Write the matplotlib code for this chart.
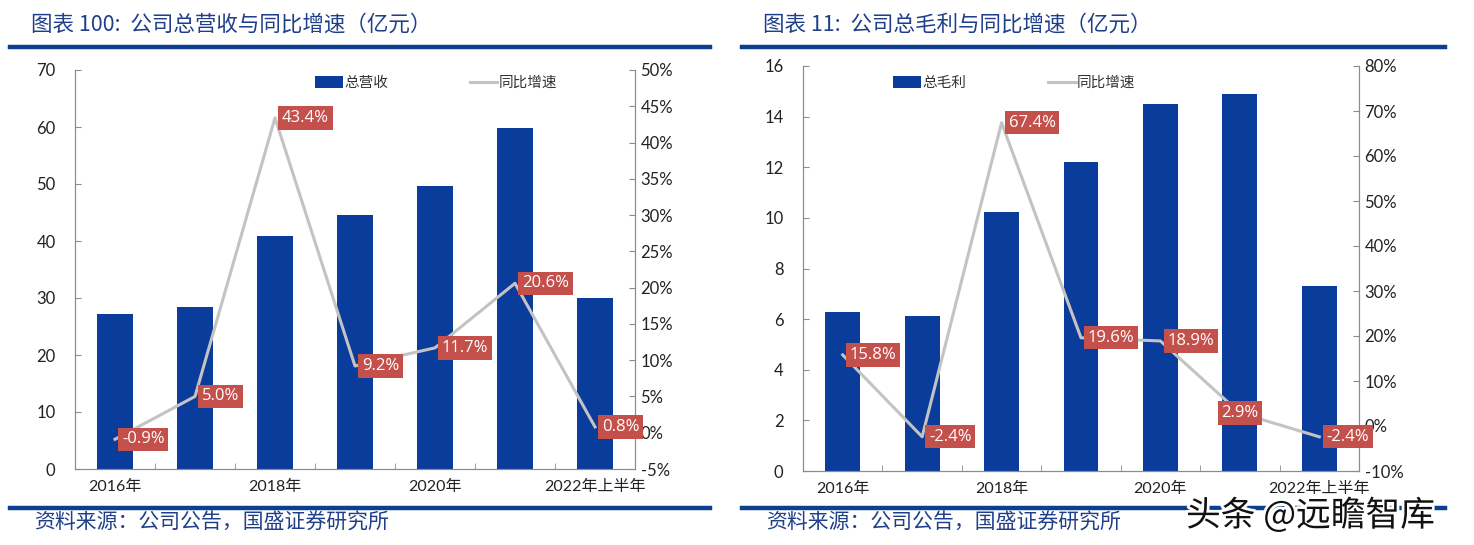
import matplotlib
matplotlib.use("Agg")
import matplotlib.pyplot as plt
import matplotlib.patheffects as pe
from matplotlib.ticker import FuncFormatter, FixedLocator, MultipleLocator
import numpy as np

plt.rcParams['font.family'] = ['Lato', 'Noto Sans CJK SC', 'DejaVu Sans']

# ---------------- data ----------------
years = ['2016年', '2017年', '2018年', '2019年', '2020年', '2021年', '2022年上半年']
shown_ticks = [0, 2, 4, 6]

revenue = [27.2, 28.5, 40.8, 44.6, 49.7, 59.8, 30.0]          # 亿元
revenue_yoy = [-0.9, 5.0, 43.4, 9.2, 11.7, 20.6, 0.8]         # %

gross_profit = [6.28, 6.12, 10.22, 12.2, 14.5, 14.9, 7.3]     # 亿元
gross_profit_yoy = [15.8, -2.4, 67.4, 19.6, 18.9, 2.9, -2.4]  # %

title_left = '图表 100:  公司总营收与同比增速（亿元）'
title_right = '图表 11:  公司总毛利与同比增速（亿元）'
source_text = '资料来源：公司公告，国盛证券研究所'
bar_label_left = '总营收'
bar_label_right = '总毛利'
line_label = '同比增速'
watermark = '头条 @远瞻智库'

# ---------------- style ----------------
BAR_C = '#0a3c9c'
LINE_C = '#c3c3c3'
BOX_C = '#c4504c'
NAVY = '#0d3f8f'
TITLE_C = '#1f3f8a'
SPINE_C = '#8c8c8c'
CJK = ['Noto Sans CJK SC', 'DejaVu Sans']

W, H = 1474, 545
fig = plt.figure(figsize=(W / 100, H / 100), dpi=100)


def fx(px):
    return px / W


def fy(py):
    return 1 - py / H


def panel(rect, bars, yoy, ylim, y2lim, ystep, y2step, bar_lab,
          leg_anchor, label_ha):
    ax = fig.add_axes(rect)
    x = np.arange(len(years))
    ax.bar(x, bars, width=0.44, color=BAR_C, label=bar_lab, zorder=2)
    ax.set_xlim(-0.5, len(years) - 0.5)
    ax.set_ylim(*ylim)
    ax.yaxis.set_major_locator(MultipleLocator(ystep))
    ax.set_xticks(shown_ticks)
    ax.set_xticklabels([years[i] for i in shown_ticks], family=['Lato'] + CJK,
                       fontsize=11.5, color='#222222')
    ax.xaxis.set_minor_locator(FixedLocator(np.arange(0.5, len(years) - 0.5, 1)))
    ax.tick_params(axis='x', which='major', length=0, pad=8)
    ax.tick_params(axis='x', which='minor', direction='in', length=4, color=SPINE_C)
    ax.tick_params(axis='y', direction='in', length=4, color=SPINE_C,
                   labelsize=12, labelcolor='#222222', pad=14)
    for s in ax.spines.values():
        s.set_color(SPINE_C)
    ax.spines['top'].set_visible(False)

    ax2 = ax.twinx()
    ln, = ax2.plot(x, yoy, color=LINE_C, lw=2.2, label=line_label, zorder=3)
    ax2.set_ylim(*y2lim)
    ax2.yaxis.set_major_locator(MultipleLocator(y2step))
    ax2.yaxis.set_major_formatter(FuncFormatter(lambda v, p: f'{v:.0f}%'))
    ax2.tick_params(axis='y', direction='in', length=4, color=SPINE_C,
                    labelsize=12, labelcolor='#222222', pad=4)
    for s in ax2.spines.values():
        s.set_color(SPINE_C)
    ax2.spines['top'].set_visible(False)

    for i, v in enumerate(yoy):
        ha = label_ha[i]
        off = 5 if ha == 'left' else 0
        ax2.annotate(f'{v:.1f}%', (x[i], v), xytext=(off, 0),
                     textcoords='offset points', ha=ha, va='center',
                     color='white', fontsize=12, family=['Open Sans'] + CJK,
                     bbox=dict(boxstyle='square,pad=0.22', fc=BOX_C, ec='none'),
                     zorder=5)

    h1, l1 = ax.get_legend_handles_labels()
    leg = ax2.legend(h1 + [ln], l1 + [line_label], loc='center',
                     bbox_to_anchor=leg_anchor, ncol=2, frameon=False,
                     prop={'family': CJK, 'size': 10.5}, handlelength=1.9,
                     handleheight=0.9, columnspacing=5.6, handletextpad=0.1)
    for t in leg.get_texts():
        t.set_color('#333333')
    return ax, ax2


# left panel
panel([fx(75), fy(469), fx(560), (469 - 70) / H], revenue, revenue_yoy,
      (0, 70), (-5, 50), 10, 5, bar_label_left, (0.645, 0.967),
      ['left'] * 7)

# right panel
panel([fx(803), fy(471), fx(556), (471 - 66) / H], gross_profit, gross_profit_yoy,
      (0, 16), (-10, 80), 2, 10, bar_label_right, (0.38, 0.958),
      ['left', 'left', 'left', 'left', 'left', 'center', 'left'])

# titles, rules, sources
for x0, x1, title in [(10, 710, title_left), (742, 1445, title_right)]:
    fig.text(fx(x0 + 21), fy(25), title, family=CJK, fontsize=15.5,
             color=TITLE_C, va='center', ha='left', style='italic')
    fig.add_artist(plt.Line2D([fx(x0), fx(x1)], [fy(47), fy(47)],
                              color=NAVY, lw=3.2))
    fig.add_artist(plt.Line2D([fx(x0), fx(x1)], [fy(508), fy(508)],
                              color=NAVY, lw=3.2))
    fig.text(fx(x0 + 24), fy(523), source_text, family=CJK, fontsize=15,
             color=TITLE_C, va='center', ha='left', style='italic')

fig.text(fx(1186), fy(516), watermark, family=CJK, fontsize=25,
         color='#111111', va='center', ha='left',
         path_effects=[pe.withStroke(linewidth=4, foreground='white')])

fig.savefig('out.png', dpi=100)
